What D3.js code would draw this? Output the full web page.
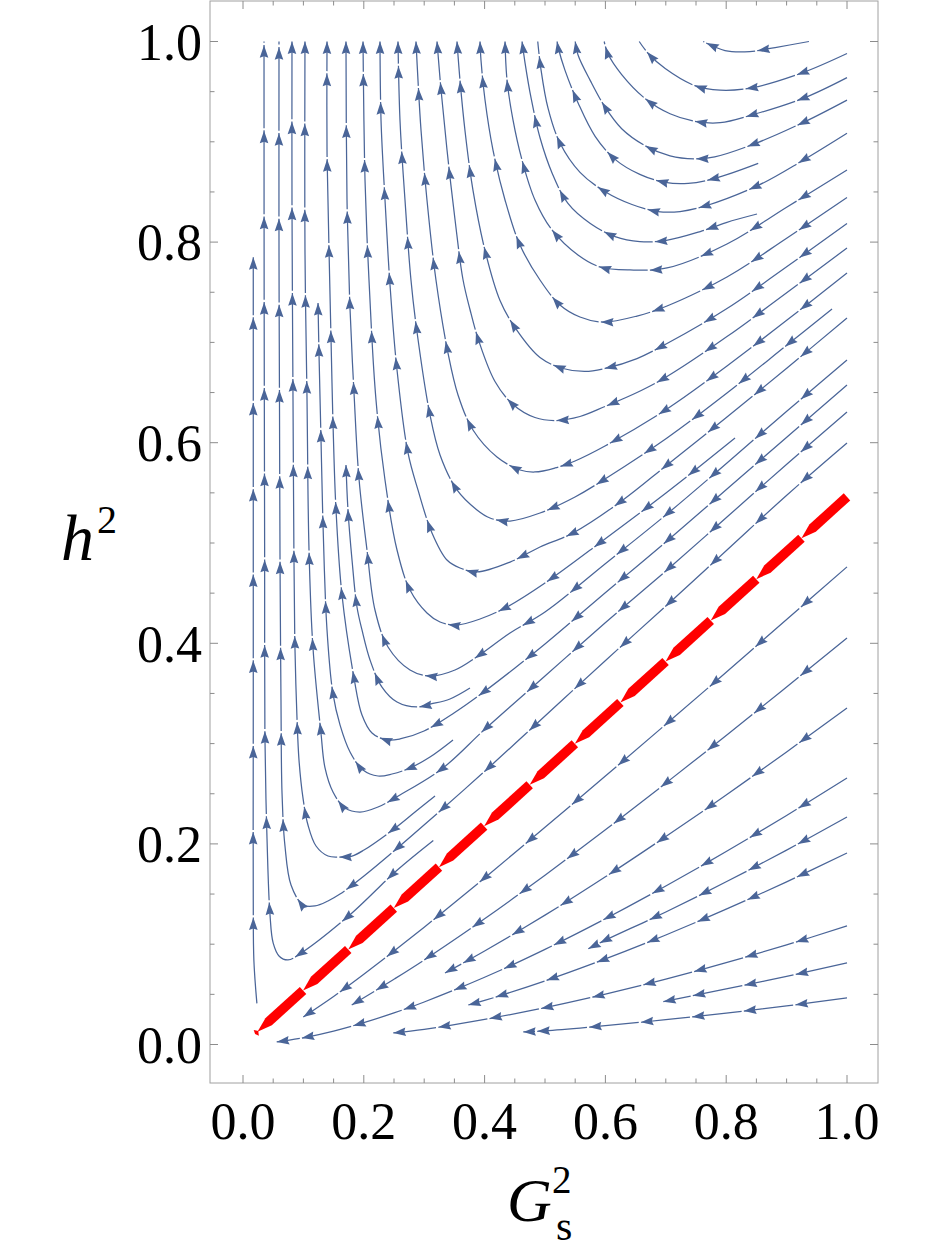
<!DOCTYPE html>
<html>
<head>
<meta charset="utf-8">
<script src="https://cdn.jsdelivr.net/npm/d3@7/dist/d3.min.js"></script>
<style>
  html, body { margin: 0; padding: 0; background: #ffffff; }
  svg text { font-family: "Liberation Serif", "Times New Roman", serif; fill: #000; }
</style>
</head>
<body>
<svg id="chart" width="938" height="1250"></svg>
<script>
// tick labels
const xTickValues = [0.0, 0.2, 0.4, 0.6, 0.8, 1.0];
const yTickValues = [0.0, 0.2, 0.4, 0.6, 0.8, 1.0];

// streamlines above the red line, [G_s^2, h^2] listed in the direction of the flow
const upperLines = [
  [[0.937,1.0],[0.881,0.994],[0.839,0.990],[0.798,0.991],[0.762,1.0]],
  [[1.0,0.988],[0.927,0.969],[0.844,0.954],[0.790,0.9515],[0.748,0.956],[0.699,0.973],[0.671,0.988],[0.656,1.0]],
  [[1.0,0.964],[0.930,0.944],[0.844,0.927],[0.790,0.919],[0.752,0.920],[0.707,0.928],[0.666,0.943],[0.627,0.967],[0.604,0.988],[0.598,1.0]],
  [[1.0,0.9416],[0.930,0.920],[0.851,0.899],[0.781,0.885],[0.748,0.883],[0.707,0.886],[0.666,0.896],[0.627,0.913],[0.599,0.935],[0.575,0.961],[0.555,0.986],[0.550,1.0]],
  [[0.853,0.8785],[0.781,0.8635],[0.737,0.8585],[0.699,0.8595],[0.657,0.8675],[0.616,0.8825],[0.583,0.9055],[0.555,0.9385],[0.533,0.9715],[0.522,0.9935],[0.520,1.0]],
  [[1.0,0.9085],[0.927,0.8815],[0.853,0.8565],[0.768,0.8365],[0.7235,0.8305],[0.687,0.8305],[0.644,0.8375],[0.599,0.8505],[0.558,0.8695],[0.525,0.8985],[0.505,0.9335],[0.493,0.9735],[0.488,1.0]],
  [[0.851,0.828],[0.800,0.8195],[0.757,0.8105],[0.699,0.8015],[0.657,0.8005],[0.616,0.8055],[0.575,0.8185],[0.538,0.8385],[0.512,0.8685],[0.492,0.9035],[0.477,0.9435],[0.467,0.9785],[0.462,1.0]],
  [[1.0,0.8719],[0.9007,0.835],[0.8013,0.7981],[0.702,0.7742],[0.6407,0.7722],[0.5911,0.7752],[0.5546,0.7871],[0.5116,0.8121],[0.4834,0.842],[0.4619,0.8819],[0.447,0.9218],[0.4371,0.9616],[0.4338,1.0]],
  [[1.0,0.8445],[0.9007,0.8041],[0.8013,0.7652],[0.702,0.7363],[0.6523,0.7263],[0.596,0.7203],[0.5579,0.7253],[0.5248,0.7373],[0.4917,0.7622],[0.4586,0.7971],[0.4338,0.842],[0.4139,0.8918],[0.4007,0.9417],[0.394,0.9816],[0.3924,1.0]],
  [[1.0,0.8186],[0.9007,0.7757],[0.8013,0.7338],[0.702,0.6989],[0.6523,0.6839],[0.5993,0.674],[0.5662,0.671],[0.5298,0.674],[0.4917,0.6849],[0.4536,0.7119],[0.4255,0.7418],[0.4007,0.7916],[0.3808,0.8515],[0.3675,0.9113],[0.3593,0.9611],[0.3543,1.0]],
  [[1.0,0.7941],[0.9007,0.7497],[0.8013,0.7058],[0.702,0.666],[0.6523,0.65],[0.5993,0.6361],[0.5579,0.6261],[0.5166,0.6221],[0.4834,0.6251],[0.447,0.6381],[0.4172,0.661],[0.3907,0.7009],[0.3758,0.7328],[0.3642,0.7627],[0.351,0.8225],[0.3377,0.8923],[0.3278,0.9522],[0.3212,1.0]],
  [[1.0,0.7692],[0.9007,0.7223],[0.8013,0.6765],[0.702,0.6336],[0.5993,0.5967],[0.5497,0.5818],[0.5166,0.5748],[0.4834,0.5708],[0.4586,0.5728],[0.4205,0.5858],[0.3808,0.6127],[0.356,0.6476],[0.3394,0.6894],[0.3195,0.7622],[0.3046,0.842],[0.2947,0.9118],[0.2897,0.9616],[0.2864,1.0]],
  [[0.9752,0.7333],[0.9007,0.6974],[0.8013,0.6496],[0.702,0.6047],[0.5993,0.5638],[0.5497,0.5459],[0.4917,0.5299],[0.4421,0.5219],[0.4089,0.5249],[0.3874,0.5329],[0.3543,0.5529],[0.3262,0.5878],[0.3096,0.6276],[0.2881,0.7104],[0.2781,0.7622],[0.2682,0.842],[0.2599,0.9218],[0.2566,1.0]],
  [[1.0,0.7243],[0.9007,0.6745],[0.8013,0.6256],[0.702,0.5778],[0.6291,0.5429],[0.5464,0.51],[0.4917,0.496],[0.4421,0.481],[0.3874,0.4711],[0.3593,0.4751],[0.3377,0.483],[0.3129,0.51],[0.2897,0.5529],[0.2732,0.5898],[0.255,0.6725],[0.2434,0.7572],[0.2351,0.842],[0.2285,0.9218],[0.2268,1.0]],
  [[0.8146,0.6047],[0.7003,0.5498],[0.5993,0.504],[0.5,0.4601],[0.4371,0.4362],[0.3924,0.4242],[0.3543,0.4182],[0.3262,0.4212],[0.3046,0.4302],[0.2765,0.4531],[0.255,0.493],[0.2351,0.5628],[0.2202,0.6426],[0.2086,0.7622],[0.202,0.8619],[0.1987,1.0]],
  [[1.0,0.6825],[0.9007,0.6316],[0.8013,0.5798],[0.702,0.5289],[0.5993,0.4791],[0.5,0.4312],[0.4421,0.4103],[0.3891,0.3873],[0.351,0.3734],[0.3096,0.3674],[0.2765,0.3734],[0.2401,0.3963],[0.2185,0.4332],[0.2053,0.493],[0.1921,0.5638],[0.1838,0.6496],[0.1772,0.7333],[0.1722,0.842],[0.1705,1.0]],
  [[0.3758,0.3554],[0.3427,0.3445],[0.3113,0.3395],[0.2881,0.3365],[0.255,0.3415],[0.2301,0.3564],[0.2103,0.3834],[0.197,0.4133],[0.1887,0.4362],[0.1805,0.4831],[0.1738,0.5329],[0.1705,0.5778]],
  [[1.0,0.6575],[0.9007,0.6057],[0.8013,0.5538],[0.702,0.502],[0.5993,0.4501],[0.5,0.3993],[0.4503,0.3754],[0.4007,0.3524],[0.3493,0.3305],[0.2997,0.3126],[0.2599,0.3046],[0.2384,0.3036],[0.2136,0.3106],[0.197,0.3285],[0.1838,0.3654],[0.1639,0.4482],[0.154,0.5329],[0.149,0.6197],[0.1457,0.7044],[0.1424,0.7921],[0.1391,0.8918],[0.1391,1.0]],
  [[0.3477,0.3036],[0.3096,0.2866],[0.2765,0.2757],[0.2467,0.2697],[0.2235,0.2677],[0.1987,0.2737],[0.1772,0.2916],[0.1606,0.3186],[0.149,0.3495],[0.1391,0.4133],[0.1325,0.5179],[0.1291,0.6047],[0.1258,0.6894],[0.1242,0.7393]],
  [[1.0,0.6306],[0.9007,0.5788],[0.8013,0.5259],[0.702,0.4731],[0.5993,0.4202],[0.5,0.3674],[0.4007,0.3145],[0.3311,0.2757],[0.2599,0.2488],[0.2235,0.2368],[0.1937,0.2318],[0.1689,0.2358],[0.149,0.2517],[0.1358,0.2757],[0.1291,0.3106],[0.1159,0.3953],[0.1093,0.493],[0.106,0.6426],[0.1026,0.7921],[0.1026,1.0]],
  [[0.3179,0.2478],[0.2848,0.2318],[0.25,0.2149],[0.2003,0.1939],[0.1805,0.1879],[0.1606,0.1869],[0.1407,0.1879],[0.1209,0.1979],[0.1076,0.2188],[0.0993,0.2458],[0.0927,0.2837],[0.0894,0.3255],[0.0861,0.3933],[0.0844,0.483],[0.0828,0.6426],[0.0811,0.842],[0.0811,1.0]],
  [[1.0,0.5997],[0.9007,0.5479],[0.8013,0.493],[0.702,0.4382],[0.5993,0.3824],[0.5,0.3275],[0.4007,0.2727],[0.2997,0.2188],[0.25,0.1929],[0.2003,0.168],[0.1606,0.15],[0.1407,0.1431],[0.1192,0.1381],[0.0993,0.1391],[0.0795,0.159],[0.0695,0.1979],[0.0646,0.2507],[0.0629,0.3435],[0.0613,0.483],[0.0604,0.6426],[0.0596,0.7921],[0.0596,1.0]],
  [[0.3151,0.2034],[0.2545,0.1734],[0.1772,0.1294],[0.0988,0.0922],[0.0745,0.0843],[0.060,0.088],[0.050,0.101],[0.0447,0.1294],[0.0392,0.2173],[0.0364,0.3036],[0.0358,0.50],[0.0350,0.75],[0.0348,1.0]],
  [[0.023,0.041],[0.018,0.084],[0.017,0.144],[0.017,0.343],[0.017,0.543],[0.017,0.785]]
];

// streamlines below the red line, running toward the origin
const lowerLines = [
  [[1.0,0.4762],[0.9,0.4237],[0.8,0.3712],[0.7,0.3192],[0.6,0.2676],[0.5,0.2165],[0.4,0.1661],[0.3,0.117],[0.2,0.07],[0.15,0.0479],[0.0998,0.0274]],
  [[1.0,0.4053],[0.9,0.3565],[0.8,0.3081],[0.7,0.2606],[0.6,0.214],[0.5,0.1688],[0.4,0.1253],[0.3,0.0843],[0.25,0.0651],[0.18,0.0393]],
  [[1.0,0.3355],[0.9,0.2917],[0.8,0.2488],[0.7,0.2073],[0.6,0.1672],[0.5,0.129],[0.4,0.0932],[0.3344,0.0713]],
  [[1.0,0.2657],[0.9,0.2284],[0.8,0.1924],[0.7,0.158],[0.6,0.1254],[0.5,0.0949],[0.4,0.067],[0.3,0.0424],[0.25,0.0315],[0.2,0.0218],[0.15,0.0134],[0.1,0.0067],[0.0558,0.0025]],
  [[1.0,0.2268],[0.9,0.1938],[0.8,0.1622],[0.7,0.1321],[0.6,0.104],[0.5717,0.0954]],
  [[1.0,0.1909],[0.9,0.1622],[0.8,0.1349],[0.7,0.1092],[0.6,0.0853],[0.5,0.0634],[0.4,0.0439],[0.373,0.0394]],
  [[1.0,0.1182],[0.9,0.0993],[0.8,0.0816],[0.7,0.0652],[0.6,0.0502],[0.5,0.0367],[0.4,0.025],[0.3,0.0151],[0.2488,0.0115]],
  [[1.0,0.0813],[0.9,0.0679],[0.8,0.0554],[0.6959,0.0427]],
  [[1.0,0.0464],[0.9,0.0385],[0.8,0.0313],[0.7,0.0247],[0.6,0.0188],[0.5,0.0136],[0.464,0.0125]]
];

// the red line, from the right edge down to the origin
const redLine = [[1.0, 0.546], [0.02, 0.0105]];

const PIECE = 0.0855;   // flow length between two arrowheads, in axis units

const svg = d3.select("#chart");
const x = d3.scaleLinear().domain([0, 1]).range([243, 847]);
const y = d3.scaleLinear().domain([0, 1]).range([1044.5, 41.5]);
const fx0 = 210, fx1 = 878, fy0 = 1, fy1 = 1083;
const xu = x(1) - x(0), yu = y(0) - y(1);

const blue = "#4a6598";

svg.append("defs").append("clipPath").attr("id", "clip")
  .append("rect").attr("x", fx0).attr("y", fy0).attr("width", fx1 - fx0).attr("height", fy1 - fy0);

const plot = svg.append("g").attr("clip-path", "url(#clip)");

const line = d3.line()
  .x(d => x(d[0]))
  .y(d => y(d[1]))
  .curve(d3.curveCatmullRom.alpha(0.5));

// split a drawn path into equal flow pieces, return the arc positions of the piece ends
function pieceEnds(node, piece) {
  const total = node.getTotalLength();
  const ends = [];
  let prev = node.getPointAtLength(0), acc = 0, next = piece;
  for (let s = 0.5; ; s += 0.5) {
    const ss = Math.min(s, total);
    const p = node.getPointAtLength(ss);
    acc += Math.hypot((p.x - prev.x) / xu, (p.y - prev.y) / yu);
    if (acc >= next) { ends.push(ss); next += piece; }
    prev = p;
    if (ss >= total) break;
  }
  const rest = acc - (next - piece);
  return { total, ends, rest };
}

function dirAt(node, s) {
  const p = node.getPointAtLength(s);
  const q = node.getPointAtLength(Math.max(0, s - 3));
  return { x: p.x, y: p.y, a: Math.atan2(p.y - q.y, p.x - q.x) * 180 / Math.PI };
}

const streams = plot.append("g");
upperLines.concat(lowerLines).forEach(pts => {
  const path = streams.append("path")
    .datum(pts)
    .attr("d", line)
    .attr("fill", "none")
    .attr("stroke", blue)
    .attr("stroke-width", 1.25);
  const node = path.node();
  const { total, ends, rest } = pieceEnds(node, PIECE);
  const tips = ends.slice();
  if (rest > 0.02) tips.push(total);
  // small break in the line just after every arrow tip
  const dash = [];
  let last = 0;
  ends.forEach(s => { dash.push(Math.max(0.01, s - last), 2.2); last = s + 2.2; });
  dash.push(total + 10);
  path.attr("stroke-dasharray", dash.join(" "));
  tips.forEach(s => {
    const d = dirAt(node, s);
    streams.append("path")
      .attr("d", "M0,0L-12.5,-4.3L-11,0L-12.5,4.3Z")
      .attr("transform", `translate(${d.x},${d.y}) rotate(${d.a})`)
      .attr("fill", blue);
  });
});

// red line: thick pieces, each one tapering to a point in the direction of the flow
(function () {
  const tmp = plot.append("path").datum(redLine).attr("d", d3.line().x(d => x(d[0])).y(d => y(d[1])))
    .attr("fill", "none").attr("stroke", "none");
  const node = tmp.node();
  const { total, ends } = pieceEnds(node, PIECE);
  const marks = [0].concat(ends);
  if (marks[marks.length - 1] < total - 0.5) marks.push(total);
  const p0 = node.getPointAtLength(0), p1 = node.getPointAtLength(total);
  const ux = (p1.x - p0.x) / total, uy = (p1.y - p0.y) / total;
  const nx = -uy, ny = ux;
  const hw = 4.8, taper = 15;
  const at = s => [p0.x + ux * s, p0.y + uy * s];
  for (let i = 0; i + 1 < marks.length; i++) {
    const s0 = marks[i], s1 = marks[i + 1];
    const len = s1 - s0;
    let poly;
    if (len < taper) {
      // last short piece: a small diamond
      const m = at((s0 + s1) / 2), a = at(s0 - 1), c = at(s1);
      poly = [a, [m[0] + nx * hw * 0.8, m[1] + ny * hw * 0.8], c, [m[0] - nx * hw * 0.8, m[1] - ny * hw * 0.8]];
    } else {
      const a = at(s0), b = at(s1 - taper), c = at(s1);
      poly = [
        [a[0] + nx * hw, a[1] + ny * hw],
        [b[0] + nx * hw, b[1] + ny * hw],
        c,
        [b[0] - nx * hw, b[1] - ny * hw],
        [a[0] - nx * hw, a[1] - ny * hw]
      ];
    }
    plot.append("path")
      .attr("d", "M" + poly.map(p => p.join(",")).join("L") + "Z")
      .attr("fill", "#ff0000");
  }
})();

// frame and ticks
const axisColor = "#8c8c8c";
svg.append("rect")
  .attr("x", fx0).attr("y", fy0).attr("width", fx1 - fx0).attr("height", fy1 - fy0)
  .attr("fill", "none").attr("stroke", "#a0a0a0").attr("stroke-width", 1);

const isMajor = v => Math.abs(v * 5 - Math.round(v * 5)) < 1e-6;
const minorVals = d3.range(0, 21).map(i => +(i * 0.05).toFixed(2));
const ticks = svg.append("g").attr("stroke", axisColor).attr("stroke-width", 1);
minorVals.forEach(v => {
  const len = isMajor(v) ? 8 : 4.5;
  const px = x(v), py = y(v);
  ticks.append("line").attr("x1", px).attr("x2", px).attr("y1", fy1).attr("y2", fy1 - len);
  ticks.append("line").attr("x1", px).attr("x2", px).attr("y1", fy0).attr("y2", fy0 + len);
  ticks.append("line").attr("y1", py).attr("y2", py).attr("x1", fx0).attr("x2", fx0 + len);
  ticks.append("line").attr("y1", py).attr("y2", py).attr("x1", fx1).attr("x2", fx1 - len);
});

svg.append("g").selectAll("text").data(xTickValues).join("text")
  .attr("x", d => x(d)).attr("y", 1139)
  .attr("text-anchor", "middle")
  .attr("font-size", 52)
  .text(d => d.toFixed(1));

svg.append("g").selectAll("text").data(yTickValues).join("text")
  .attr("x", 202).attr("y", d => y(d))
  .attr("dy", "0.35em")
  .attr("text-anchor", "end")
  .attr("font-size", 52)
  .text(d => d.toFixed(1));

// axis titles
svg.append("text").attr("x", 61).attr("y", 560)
  .attr("font-style", "italic").attr("font-size", 66).text("h");
svg.append("text").attr("x", 97).attr("y", 533)
  .attr("font-size", 40).text("2");

svg.append("text").attr("x", 507).attr("y", 1221)
  .attr("font-style", "italic").attr("font-size", 62).text("G");
svg.append("text").attr("x", 552).attr("y", 1193)
  .attr("font-size", 39).text("2");
svg.append("text").attr("x", 556).attr("y", 1240)
  .attr("font-size", 42).text("s");
</script>
</body>
</html>
